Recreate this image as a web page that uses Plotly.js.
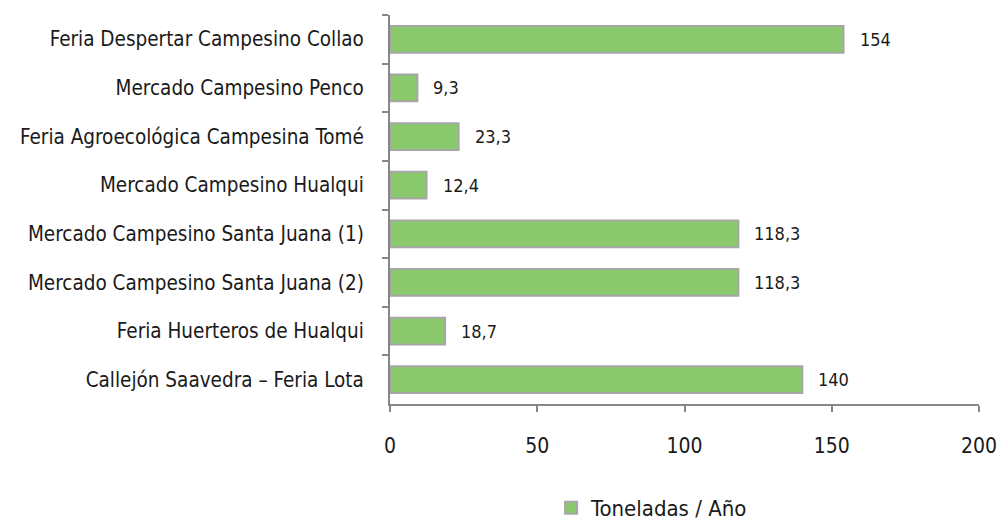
<!DOCTYPE html>
<html><head><meta charset="utf-8">
<script src="https://cdn.plot.ly/plotly-3.0.1.min.js"></script>
<style>body{margin:0;background:#fff}#c{width:999px;height:520px}</style>
</head><body><div id="c"></div>
<script>
const categories = ["Feria Despertar Campesino Collao","Mercado Campesino Penco","Feria Agroecológica Campesina Tomé","Mercado Campesino Hualqui","Mercado Campesino Santa Juana (1)","Mercado Campesino Santa Juana (2)","Feria Huerteros de Hualqui","Callejón Saavedra – Feria Lota"];
const values = [154, 9.3, 23.3, 12.4, 118.3, 118.3, 18.7, 140];
const seriesName = "Toneladas / Año";
const xTicks = [0, 50, 100, 150, 200];

const FONT = "'Liberation Sans Narrow', 'Arial Narrow', 'DejaVu Sans Condensed', sans-serif";
const labels = values.map(v => String(v).replace('.', ','));

const trace = {
  type: 'bar', orientation: 'h', name: seriesName,
  y: categories, x: values,
  marker: {color: '#8ac96c', line: {color: '#a6a6a6', width: 2}},
  hoverinfo: 'skip'
};
const annotations = values.map((v, i) => ({
  x: v, y: categories[i], xref: 'x', yref: 'y', text: labels[i],
  showarrow: false, xanchor: 'left', xshift: 14,
  font: {family: FONT, size: 18, color: '#1a1a1a'}
}));
const layout = {
  width: 999, height: 520,
  margin: {l: 390, r: 20, t: 15, b: 116, autoexpand: false},
  paper_bgcolor: '#fff', plot_bgcolor: '#fff',
  font: {family: FONT, size: 18, color: '#1a1a1a'},
  bargap: 0.45,
  showlegend: true,
  legend: {orientation: 'h', x: 0.445, xanchor: 'center', y: -0.267, yanchor: 'middle', font: {family: FONT, size: 22, color: '#1a1a1a'}},
  xaxis: {range: [0, 200], tickvals: xTicks, showgrid: false, zeroline: false,
    showline: true, linecolor: '#868686', linewidth: 2,
    ticks: 'outside', ticklen: 6, tickwidth: 2, tickcolor: '#868686',
    ticklabelstandoff: 16, tickfont: {family: FONT, size: 21, color: '#1a1a1a'}},
  yaxis: {autorange: 'reversed', type: 'category', showgrid: false, zeroline: false,
    showline: true, linecolor: '#868686', linewidth: 2,
    ticks: 'outside', tickson: 'boundaries', ticklen: 6, tickwidth: 2, tickcolor: '#868686',
    ticklabelstandoff: 20, tickfont: {family: FONT, size: 20.5, color: '#1a1a1a'}},
  annotations: annotations
};
Plotly.newPlot('c', [trace], layout, {displayModeBar: false, staticPlot: true});
</script></body></html>
